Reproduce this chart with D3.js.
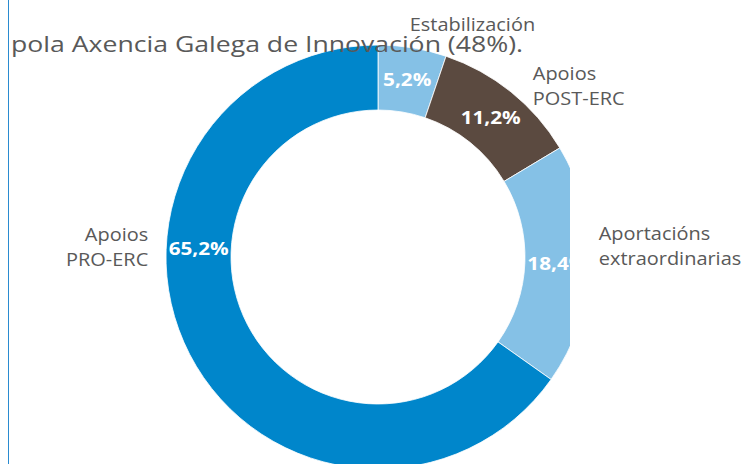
<!DOCTYPE html>
<html>
<head>
<meta charset="utf-8">
<script src="https://cdn.jsdelivr.net/npm/d3@7"></script>
<style>
    body { margin: 0; background: #fff; }
    text { font-family: "Open Sans", "Noto Sans", sans-serif; }
</style>
</head>
<body>
<svg class="donut-svg" width="742" height="464"></svg>
<script>
// Data
var categories = ["Estabilización", "Apoios POST-ERC", "Aportacións extraordinarias", "Apoios PRO-ERC"];
var labelLines = [["Estabilización"], ["Apoios", "POST-ERC"], ["Aportacións", "extraordinarias"], ["Apoios", "PRO-ERC"]];
var values = [5.2, 11.2, 18.4, 65.2];
var valueLabels = ["5,2%", "11,2%", "18,4%", "65,2%"];
var colors = ["#85c1e6", "#5b4a40", "#85c1e6", "#0086cb"];
var title = "pola Axencia Galega de Innovación (48%).";

// Label layout (degrees clockwise from top, distance from centre)
var outerAngle = [7.8, 42.3, 87.3, 272.4];
var outerRadius = [234, 230, 221, 230];
var anchors = ["start", "start", "start", "end"];
var valueAngle = [null, null, null, 272.6];

var svg = d3.select(".donut-svg");
var cx = 378, cy = 257;
var rOuter = 212, rInner = 147;

// The source font is a bit wider than Open Sans: stretch glyphs horizontally
function widen(sel, k) {
    sel.each(function() {
        var w = this.getComputedTextLength();
        d3.select(this)
            .attr("textLength", w * k)
            .attr("lengthAdjust", "spacingAndGlyphs");
    });
}

function polar(angleDeg, r) {
    var a = angleDeg * Math.PI / 180;
    return [r * Math.sin(a), -r * Math.cos(a)];
}

// Plot area clip (the chart is cut on the right)
svg.append("clipPath")
    .attr("id", "plot-clip")
    .append("rect")
    .attr("x", 0).attr("y", 0)
    .attr("width", 570).attr("height", 464);

// Left border line
svg.append("line")
    .attr("x1", 8.5).attr("x2", 8.5)
    .attr("y1", 0).attr("y2", 464)
    .attr("stroke", "#2a8bd0")
    .attr("stroke-width", 1);

var pie = d3.pie().sort(null).value(function(d) { return d; });
var arcs = pie(values);
var arc = d3.arc().innerRadius(rInner).outerRadius(rOuter);

var plot = svg.append("g")
    .attr("clip-path", "url(#plot-clip)")
    .append("g")
    .attr("transform", "translate(" + cx + "," + cy + ")");

// Slices
plot.selectAll(".slice")
    .data(arcs)
    .enter()
        .append("path")
        .attr("class", "slice")
        .attr("d", arc)
        .attr("fill", function(d, i) { return colors[i]; })
        .attr("stroke", "#fff")
        .attr("stroke-width", 0.8);

// Value labels inside the ring
plot.selectAll(".value")
    .data(arcs)
    .enter()
        .append("text")
        .attr("class", "value")
        .attr("transform", function(d, i) {
            var p = valueAngle[i] === null ? arc.centroid(d) : polar(valueAngle[i], (rInner + rOuter) / 2);
            return "translate(" + p[0] + "," + (p[1] + 6.5) + ")";
        })
        .attr("text-anchor", "middle")
        .attr("fill", "#fff")
        .attr("font-weight", "bold")
        .style("font-size", "18px")
        .text(function(d, i) { return valueLabels[i]; })
        .call(widen, 1.15);

// Category labels outside the ring, one text per line
var outer = svg.append("g")
    .attr("transform", "translate(" + cx + "," + cy + ")");

arcs.forEach(function(d, i) {
    var p = polar(outerAngle[i], outerRadius[i]);
    var lines = labelLines[i];
    var lh = 25;
    var top = p[1] - (lines.length - 1) * lh / 2 + 6;
    lines.forEach(function(line, j) {
        outer.append("text")
            .attr("class", "cat")
            .attr("x", p[0])
            .attr("y", top + j * lh)
            .attr("text-anchor", anchors[i])
            .attr("fill", "#595959")
            .style("font-size", "19px")
            .text(line)
            .call(widen, 1.05);
    });
});

// Title fragment drawn over the chart
svg.append("text")
    .attr("x", 11)
    .attr("y", 52)
    .attr("fill", "#595959")
    .style("font-size", "22px")
    .attr("textLength", 512)
    .attr("lengthAdjust", "spacingAndGlyphs")
    .text(title);
</script>
</body>
</html>
